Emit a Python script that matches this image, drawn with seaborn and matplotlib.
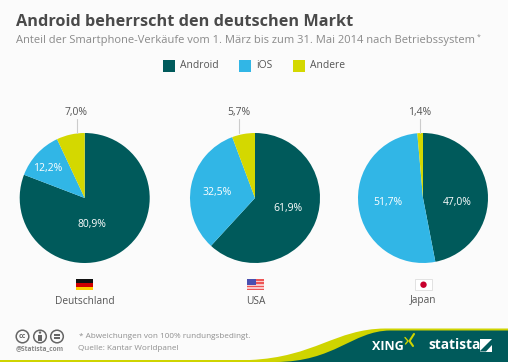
import matplotlib
matplotlib.use("Agg")
import matplotlib.pyplot as plt
from matplotlib.patches import Polygon, Rectangle, Circle, PathPatch
from matplotlib.path import Path
import seaborn as sns

countries = ["Deutschland", "USA", "Japan"]
systems = ["Android", "iOS", "Andere"]
android = [80.9, 61.9, 47.0]
ios = [12.2, 32.5, 51.7]
other = [7.0, 5.7, 1.4]
colors = ["#005A5B", "#31B6E6", "#D4D800"]

W, H = 508, 362
BG = "#FBFBFB"
sns.set_theme(style="white", rc={"figure.facecolor": BG, "savefig.facecolor": BG})
plt.rcParams["font.family"] = ["Open Sans", "DejaVu Sans"]
palette = sns.color_palette(colors)

fig = plt.figure(figsize=(W / 100, H / 100), dpi=100)

centers = [(84.7, 198, 65), (255, 198, 65), (423, 198, 65)]
fmt = lambda v: f"{v:.1f}%".replace(".", ",")
for i, (cx, cy, r) in enumerate(centers):
    ax = fig.add_axes([(cx - r) / W, 1 - (cy + r) / H, 2 * r / W, 2 * r / H])
    vals = [android[i], ios[i], other[i]]
    ax.pie(vals, colors=palette, startangle=90, counterclock=False, radius=1,
           wedgeprops={"linewidth": 0})
    ax.set_xlim(-1, 1); ax.set_ylim(-1, 1); ax.set_aspect("equal")

bg = fig.add_axes([0, 0, 1, 1], zorder=5)
bg.set_xlim(0, W); bg.set_ylim(H, 0); bg.axis("off"); bg.patch.set_alpha(0)

val_labels = [
    [(92, 225, "#ffffff"), (48, 168.5, "#ffffff"), (76.5, 113, "#555555")],
    [(288, 208, "#ffffff"), (217, 192, "#ffffff"), (238.5, 112, "#555555")],
    [(457, 202, "#ffffff"), (388, 203, "#ffffff"), (420, 112, "#555555")],
]
for i, row in enumerate(val_labels):
    vals = [android[i], ios[i], other[i]]
    for (x, y, c), v in zip(row, vals):
        bg.text(x, y, fmt(v), color=c, fontsize=7.5, ha="center", va="center")
for x in (76.5, 238.5, 419.5):
    bg.plot([x, x], [119, 133], color="#cccccc", lw=0.8)

bg.text(16, 22, "Android beherrscht den deutschen Markt", fontsize=11.7, fontweight="bold",
        color="#4a4a4a", va="center", ha="left")
bg.text(16, 40, "Anteil der Smartphone-Verkäufe vom 1. März bis zum 31. Mai 2014 nach Betriebssystem",
        fontsize=8.05, color="#8a8a8a", va="center", ha="left")
bg.text(477, 37.5, "*", fontsize=5, color="#8a8a8a", va="center", ha="left")

for x, tx, name, c in zip((163, 239, 293), (180, 256, 310), systems, palette):
    bg.add_patch(Rectangle((x, 59.5), 12, 12, color=c, lw=0))
    bg.text(tx, 66, name, fontsize=7.4, color="#555555", va="center", ha="left")

# flags
for j, c in enumerate(["#111111", "#D00000", "#FFCE00"]):
    bg.add_patch(Rectangle((76, 279 + j * 3.8), 17, 3.8, color=c, lw=0))
for j in range(7):
    bg.add_patch(Rectangle((247, 279 + j * 1.63), 17, 1.63, color="#EE5555" if j % 2 == 0 else "#F8C8C8", lw=0))
bg.add_patch(Rectangle((247, 279), 8.5, 6, color="#4A50B0", lw=0))
bg.add_patch(Rectangle((415, 279), 17, 11.4, facecolor="white", edgecolor="#dddddd", lw=0.6))
bg.add_patch(Circle((423.5, 284.7), 3.2, color="#C8002D", lw=0))
for x, name in zip((84.5, 255.5, 423), countries):
    bg.text(x, 301, name, fontsize=7.3, color="#555555", va="center", ha="center")

# footer
for x in (22.5, 40, 57):
    bg.add_patch(Circle((x, 336.5), 6.3, facecolor="none", edgecolor="#666666", lw=1.1))
bg.text(22.5, 336.5, "cc", fontsize=5, fontweight="bold", color="#666666", ha="center", va="center")
bg.add_patch(Circle((40, 332.5), 1.2, color="#666666", lw=0))
bg.add_patch(Rectangle((38.4, 334.5), 3.2, 6, color="#666666", lw=0))
bg.add_patch(Rectangle((54, 334.4), 6, 1.2, color="#666666", lw=0))
bg.add_patch(Rectangle((54, 337.4), 6, 1.2, color="#666666", lw=0))
bg.text(40, 349, "@Statista_com", fontsize=4.8, fontweight="bold", color="#888888", ha="center", va="center")
bg.text(79, 336, "* Abweichungen von 100% rundungsbedingt.", fontsize=5.85, color="#8f8f8f", va="center")
bg.text(78, 349, "Quelle: Kantar Worldpanel", fontsize=5.85, color="#8f8f8f", va="center")

teal = "#005A5B"; lime = "#CFD400"
verts = [(0, H), (0, 360), (250, 360), (315, 357), (335, 329), (385, 328.5), (W, 328.5), (W, H), (0, H)]
codes = [Path.MOVETO, Path.LINETO, Path.LINETO, Path.CURVE4, Path.CURVE4, Path.CURVE4,
         Path.LINETO, Path.LINETO, Path.CLOSEPOLY]
bg.add_patch(PathPatch(Path(verts, codes), facecolor=lime, lw=0))
verts = [(275, H), (335, 362), (352, 331), (390, 330.5), (W, 330.5), (W, H), (275, H)]
codes = [Path.MOVETO, Path.CURVE4, Path.CURVE4, Path.CURVE4, Path.LINETO, Path.LINETO, Path.CLOSEPOLY]
bg.add_patch(PathPatch(Path(verts, codes), facecolor=teal, lw=0))
bg.text(372, 346, "XING", fontsize=9, fontweight="bold", color="white", ha="left", va="center")
bg.plot([405, 408, 405.5], [337.5, 341, 344], color=lime, lw=1.0)
bg.plot([414, 409.5, 413], [334, 341, 346], color=lime, lw=1.5)
bg.text(428, 345, "statista", fontsize=9.8, fontweight="bold", color="white", ha="left", va="center")
bg.add_patch(Rectangle((479.5, 339), 12.5, 12.5, color="white", lw=0))
bg.add_patch(Polygon([(479.5, 351.5), (492, 339), (492, 345), (486, 351.5)], color=teal, lw=0))

fig.savefig("out.png", dpi=100)
